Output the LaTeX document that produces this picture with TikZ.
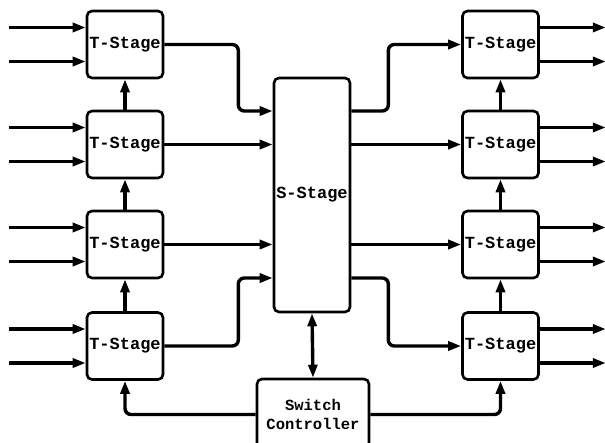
\documentclass[tikz,border=0pt]{standalone}
\usepackage{fontspec}
\setmonofont{Liberation Mono}
\usetikzlibrary{arrows.meta}
\begin{document}
\begin{tikzpicture}[x=1pt,y=-1pt,
  stagebox/.style={draw,line width=2.6pt,rounded corners=5pt,inner sep=0pt,
    font=\ttfamily\bfseries\fontsize{17}{17}\selectfont},
  tbox/.style={stagebox,minimum width=76pt,minimum height=67pt},
  tip/.style={-{Triangle[length=13pt,width=9pt]}},
  link/.style={line width=3.4pt,rounded corners=6pt,tip},
  both/.style={line width=3.4pt,{Triangle[length=13pt,width=9pt]}-{Triangle[length=13pt,width=9pt]}}]
\useasboundingbox (0,0) rectangle (605,442);

% time-switching stages, left and right columns
\foreach \i/\y in {1/44.5,2/144.5,3/244.5,4/346}{
  \node[tbox] (L\i) at (125,\y) {T-Stage};
  \node[tbox] (R\i) at (500.5,\y) {T-Stage};
}

% space-switching stage and controller
\node[stagebox,minimum width=76pt,minimum height=234pt] (S) at (312,195) {S-Stage};
\node[stagebox,minimum width=112pt,minimum height=71pt,align=center,
  font=\ttfamily\bfseries\fontsize{15.5}{19}\selectfont] (C) at (313,414.5) {Switch\\Controller};

% incoming and outgoing lines
\foreach \i in {1,...,4}{
  \foreach \s in {17pt,-17pt}{
    \draw[link] ([yshift=\s]L\i.west) ++(-77,0) -- ++(77,0);
    \draw[link] ([yshift=\s]R\i.east) -- ++(66,0);
  }
}

% control chain between T-stages
\foreach \a/\b in {2/1,3/2,4/3}{
  \draw[link] (L\a.north) -- (L\b.south);
  \draw[link] (R\a.north) -- (R\b.south);
}

% left T-stages into the S-stage
\draw[link] (L1.east) -- ++(74,0) |- ([yshift=84pt]S.west);
\draw[link] (L2.east) -- (L2.east -| S.west);
\draw[link] (L3.east) -- (L3.east -| S.west);
\draw[link] (L4.east) -- ++(74,0) |- ([yshift=-83pt]S.west);

% S-stage out to right T-stages
\draw[link] ([yshift=84pt]S.east) -- ++(37,0) |- (R1.west);
\draw[link] (R2.west -| S.east) -- (R2.west);
\draw[link] (R3.west -| S.east) -- (R3.west);
\draw[link] ([yshift=-83pt]S.east) -- ++(37,0) |- (R4.west);

% controller links
\draw[both] (C.north) -- (S.south);
\draw[link] (C.west) -| (L4.south);
\draw[link] (C.east) -| (R4.south);
\end{tikzpicture}
\end{document}
